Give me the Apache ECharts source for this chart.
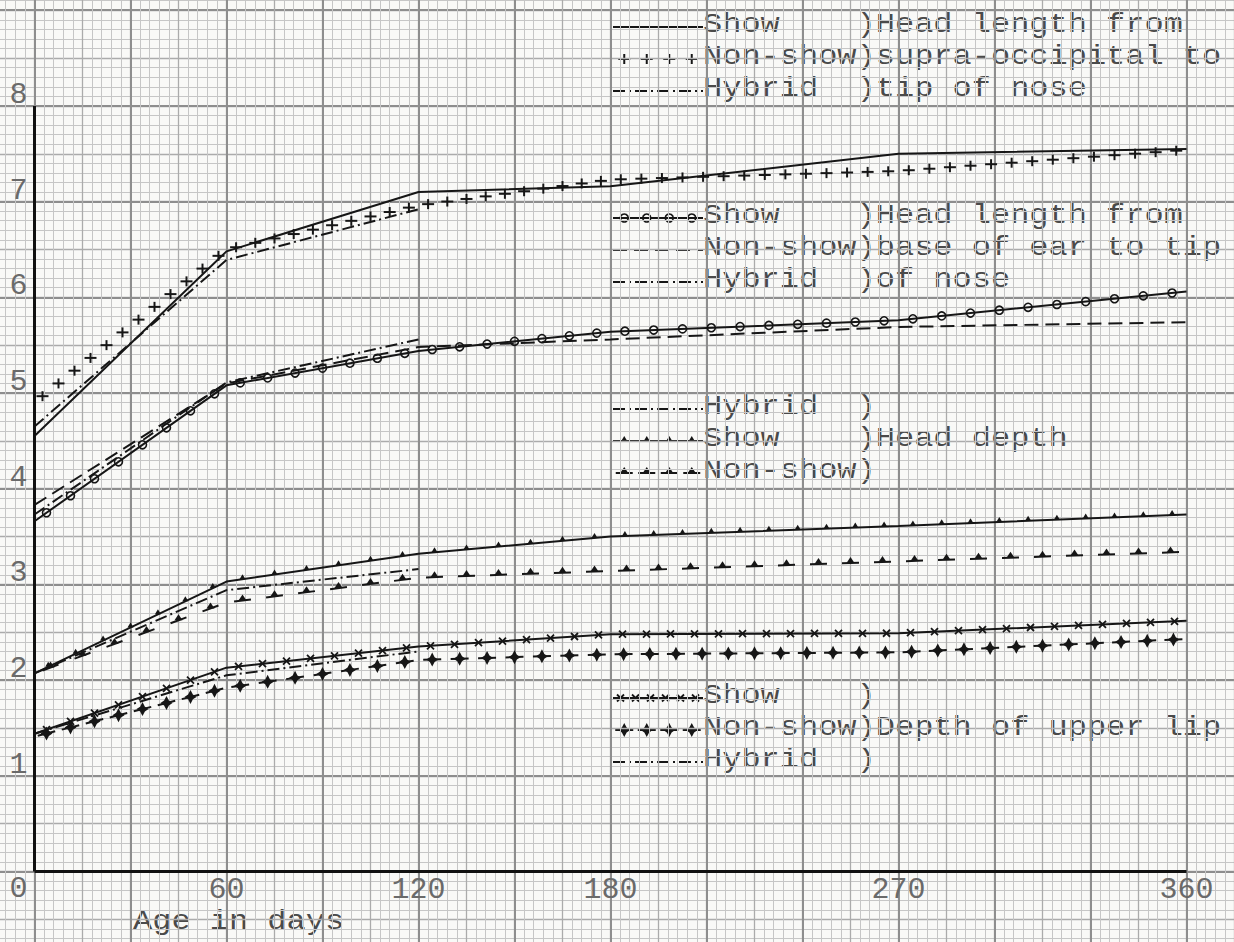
<!DOCTYPE html>
<html>
<head>
<meta charset="utf-8">
<title>Head measurements by age</title>
<script src="https://cdn.jsdelivr.net/npm/echarts@6/dist/echarts.min.js"></script>
<style>
  html, body { margin: 0; padding: 0; background: #f9f9f7; }
  #chart { width: 1234px; height: 942px; }
</style>
</head>
<body>
<div id="chart"></div>
<script>
const ages = [0, 60, 120, 180, 270, 360];
const hybridAges = [0, 60, 120];

// head length from supra-occipital to tip of nose
const lenSupraShow    = [4.55, 6.48, 7.10, 7.16, 7.50, 7.55];
const lenSupraNonShow = [4.90, 6.50, 6.96, 7.23, 7.32, 7.54];
const lenSupraHybrid  = [4.65, 6.39, 6.92];
// head length from base of ear to tip of nose
const lenEarShow    = [3.66, 5.08, 5.44, 5.64, 5.76, 6.06];
const lenEarNonShow = [3.83, 5.10, 5.48, 5.56, 5.69, 5.74];
const lenEarHybrid  = [3.73, 5.11, 5.56];
// head depth
const depthShow    = [2.07, 3.03, 3.32, 3.50, 3.61, 3.73];
const depthNonShow = [2.07, 2.81, 3.07, 3.14, 3.24, 3.34];
const depthHybrid  = [2.07, 2.94, 3.16];
// depth of upper lip
const lipShow    = [1.44, 2.13, 2.35, 2.48, 2.49, 2.62];
const lipNonShow = [1.41, 1.92, 2.21, 2.27, 2.29, 2.43];
const lipHybrid  = [1.44, 2.05, 2.30];

const xTickLabels = [60, 120, 180, 270, 360];
const yTickLabels = [0, 1, 2, 3, 4, 5, 6, 7, 8];
const ageMax = 360, valueMax = 8;

const INK = '#161616';
const TEXT = '#4a4a4a';
const NUM = '#6a6a6a';
const FONT = '"Liberation Mono", "DejaVu Sans Mono", monospace';
const DASH_DOT = [12, 4, 2, 4];

// line: dash style or null (marks only), mark: decoration drawn along the line
const curves = [
  {ages: ages, values: lenSupraShow, line: 'solid'},
  {ages: ages, values: lenSupraNonShow, line: null, mark: 'plus', gap: 20},
  {ages: hybridAges, values: lenSupraHybrid, line: DASH_DOT},
  {ages: ages, values: lenEarShow, line: 'solid', mark: 'circle', gap: 28},
  {ages: ages, values: lenEarNonShow, line: [14, 7]},
  {ages: hybridAges, values: lenEarHybrid, line: DASH_DOT},
  {ages: ages, values: depthShow, line: 'solid', mark: 'tri', gap: 30},
  {ages: ages, values: depthNonShow, line: null, mark: 'dashTri', gap: 32},
  {ages: hybridAges, values: depthHybrid, line: DASH_DOT},
  {ages: ages, values: lipShow, line: 'solid', mark: 'cross', gap: 25},
  {ages: ages, values: lipNonShow, line: null, mark: 'dashStar', gap: 26},
  {ages: hybridAges, values: lipHybrid, line: DASH_DOT}
];

const legendBlocks = [
  {y: 25, rows: [['Show', ')Head length from', 0], ['Non-show', ')supra-occipital to', 1], ['Hybrid', ')tip of nose', 2]]},
  {y: 216, rows: [['Show', ')Head length from', 3], ['Non-show', ')base of ear to tip', 4], ['Hybrid', ')of nose', 5]]},
  {y: 407, rows: [['Hybrid', ')', 8], ['Show', ')Head depth', 6], ['Non-show', ')', 7]]},
  {y: 696, rows: [['Show', ')', 9], ['Non-show', ')Depth of upper lip', 10], ['Hybrid', ')', 11]]}
];

function ln(x1, y1, x2, y2, w) {
  return {type: 'line', shape: {x1: x1, y1: y1, x2: x2, y2: y2}, style: {stroke: INK, lineWidth: w || 2}};
}

function markEls(kind, x, y, ang) {
  const c = Math.cos(ang), s = Math.sin(ang);
  const dash = function (h) { return ln(x - c * h, y - s * h, x + c * h, y + s * h, 2); };
  switch (kind) {
    case 'plus':
      return [ln(x - 6, y, x + 6, y, 2), ln(x, y - 5, x, y + 5, 2)];
    case 'circle':
      return [{type: 'circle', shape: {cx: x, cy: y, r: 4}, style: {fill: 'none', stroke: INK, lineWidth: 1.6}}];
    case 'tri':
      return [{type: 'polygon', shape: {points: [[x - 3, y], [x + 3, y], [x, y - 5]]}, style: {fill: INK}}];
    case 'dashTri':
      return [dash(8.5), {type: 'polygon', shape: {points: [[x - 4, y], [x + 4, y], [x, y - 6]]}, style: {fill: INK}}];
    case 'cross':
      return [ln(x - 3.5, y - 3.5, x + 3.5, y + 3.5, 1.8), ln(x - 3.5, y + 3.5, x + 3.5, y - 3.5, 1.8)];
    case 'dashStar':
      return [dash(9), {type: 'polygon', shape: {points: [[x, y - 7], [x + 2.4, y - 2.4], [x + 6, y], [x + 2.4, y + 2.4],
        [x, y + 7], [x - 2.4, y + 2.4], [x - 6, y], [x - 2.4, y - 2.4]]}, style: {fill: INK}}];
  }
  return [];
}

function marksAlong(kind, a, b, gap) {
  const dx = b[0] - a[0], dy = b[1] - a[1];
  const len = Math.sqrt(dx * dx + dy * dy);
  const n = Math.max(1, Math.round(len / gap));
  const ang = Math.atan2(dy, dx);
  let out = [];
  for (let k = 0; k < n; k++) {
    const t = (k + 0.5) / n;
    out = out.concat(markEls(kind, a[0] + dx * t, a[1] + dy * t, ang));
  }
  return out;
}

const series = [];
curves.forEach(function (cv, idx) {
  const pts = cv.ages.map(function (a, i) { return [a, cv.values[i]]; });
  if (cv.line) {
    const s = {
      type: 'line', xAxisIndex: 1, yAxisIndex: 1, data: pts, symbol: 'none', silent: true, z: 3,
      lineStyle: {color: INK, width: 2, type: cv.line}
    };
    if (idx === 0) {
      s.markLine = {
        symbol: 'none', silent: true, label: {show: false},
        lineStyle: {color: '#111', width: 3, type: 'solid'},
        data: [[{coord: [0, 0]}, {coord: [ageMax, 0]}], [{coord: [0, 0]}, {coord: [0, valueMax]}]]
      };
    }
    series.push(s);
  }
  if (cv.mark) {
    const segs = [];
    for (let i = 0; i + 1 < pts.length; i++) segs.push([pts[i][0], pts[i][1], pts[i + 1][0], pts[i + 1][1]]);
    series.push({
      type: 'custom', xAxisIndex: 1, yAxisIndex: 1, silent: true, z: 4,
      encode: {x: [0, 2], y: [1, 3]},
      data: segs,
      renderItem: function (params, api) {
        const a = api.coord([api.value(0), api.value(1)]);
        const b = api.coord([api.value(2), api.value(3)]);
        return {type: 'group', children: marksAlong(cv.mark, a, b, cv.gap)};
      }
    });
  }
});

// legend drawn as typed text with a sample of each line
const graphics = [];
const SX0 = 613, SX1 = 703, CH = 19.2;
// typewriter pitch is wider than the font, so stretch the text sideways
function typed(x, y, text, size) {
  return {type: 'text', x: x, y: y, scaleX: CH / (0.6 * size),
    style: {text: text, fontSize: size, fontFamily: FONT, fill: TEXT, verticalAlign: 'middle'}};
}
legendBlocks.forEach(function (blk) {
  blk.rows.forEach(function (row, r) {
    const y = blk.y + r * 32;
    const cv = curves[row[2]];
    const ly = y + 2;
    if (cv.line) {
      const l = ln(SX0, ly, SX1, ly, 2);
      if (cv.line !== 'solid') l.style.lineDash = cv.line;
      graphics.push(l);
    }
    if (cv.mark) {
      const n = cv.mark === 'cross' ? 6 : 4;
      for (let k = 0; k < n; k++) {
        markEls(cv.mark, SX0 + (k + 0.5) * (SX1 - SX0) / n, ly, 0).forEach(function (e) { graphics.push(e); });
      }
    }
    graphics.push(typed(SX1, y, row[0], 28));
    graphics.push(typed(SX1 + 8 * CH, y, row[1], 28));
  });
});
graphics.push(typed(133, 922, 'Age in days', 28));

const paperMinor = {color: '#c6c6c6', width: 1};
const paperMid = {color: '#ababab', width: 1.3};
const paperMajor = {color: '#8e8e8e', width: 2};

const chart = echarts.init(document.getElementById('chart'), null, {renderer: 'svg'});
chart.setOption({
  animation: false,
  backgroundColor: '#f9f9f7',
  grid: {left: -61.5, right: -48.5, top: -85.5, bottom: -25.2, containLabel: false, outerBoundsMode: 'none'},
  xAxis: [
    {
      type: 'value', min: -30, max: 390, interval: 15, position: 'bottom',
      axisLine: {show: false, onZero: false}, axisTick: {show: false}, axisLabel: {show: false},
      splitLine: {show: true, lineStyle: paperMid},
      minorTick: {show: false, splitNumber: 5},
      minorSplitLine: {show: true, lineStyle: paperMinor}
    },
    {
      // labels sit on the 0 line: the grid runs 95.7px below it
      type: 'value', min: -30, max: 390, interval: 30, position: 'bottom', offset: -95.7,
      axisLine: {show: false, onZero: false}, axisTick: {show: false},
      splitLine: {show: true, lineStyle: paperMajor},
      axisLabel: {
        margin: 3, color: NUM, fontSize: 30, fontFamily: FONT,
        formatter: function (v) { return xTickLabels.indexOf(v) >= 0 ? String(v) : ''; }
      }
    }
  ],
  yAxis: [
    {
      type: 'value', min: -1, max: 10, interval: 0.5, position: 'left',
      axisLine: {show: false, onZero: false}, axisTick: {show: false}, axisLabel: {show: false},
      splitLine: {show: true, lineStyle: paperMid},
      minorTick: {show: false, splitNumber: 5},
      minorSplitLine: {show: true, lineStyle: paperMinor}
    },
    {
      // labels sit on the 0 day line: the grid starts 96px left of it
      type: 'value', min: -1, max: 10, interval: 1, position: 'left', offset: -96,
      axisLine: {show: false, onZero: false}, axisTick: {show: false},
      splitLine: {show: true, lineStyle: paperMajor},
      axisLabel: {
        margin: 7, color: NUM, fontSize: 30, fontFamily: FONT,
        formatter: function (v) {
          if (yTickLabels.indexOf(v) < 0) return '';
          return v === 0 ? '{z|0}' : '{n|' + v + '}';
        },
        rich: {
          n: {fontSize: 30, fontFamily: FONT, color: NUM, padding: [0, 0, 22, 0]},
          z: {fontSize: 30, fontFamily: FONT, color: NUM, padding: [34, 0, 0, 0]}
        }
      }
    }
  ],
  graphic: {elements: graphics},
  series: series
});
</script>
</body>
</html>
